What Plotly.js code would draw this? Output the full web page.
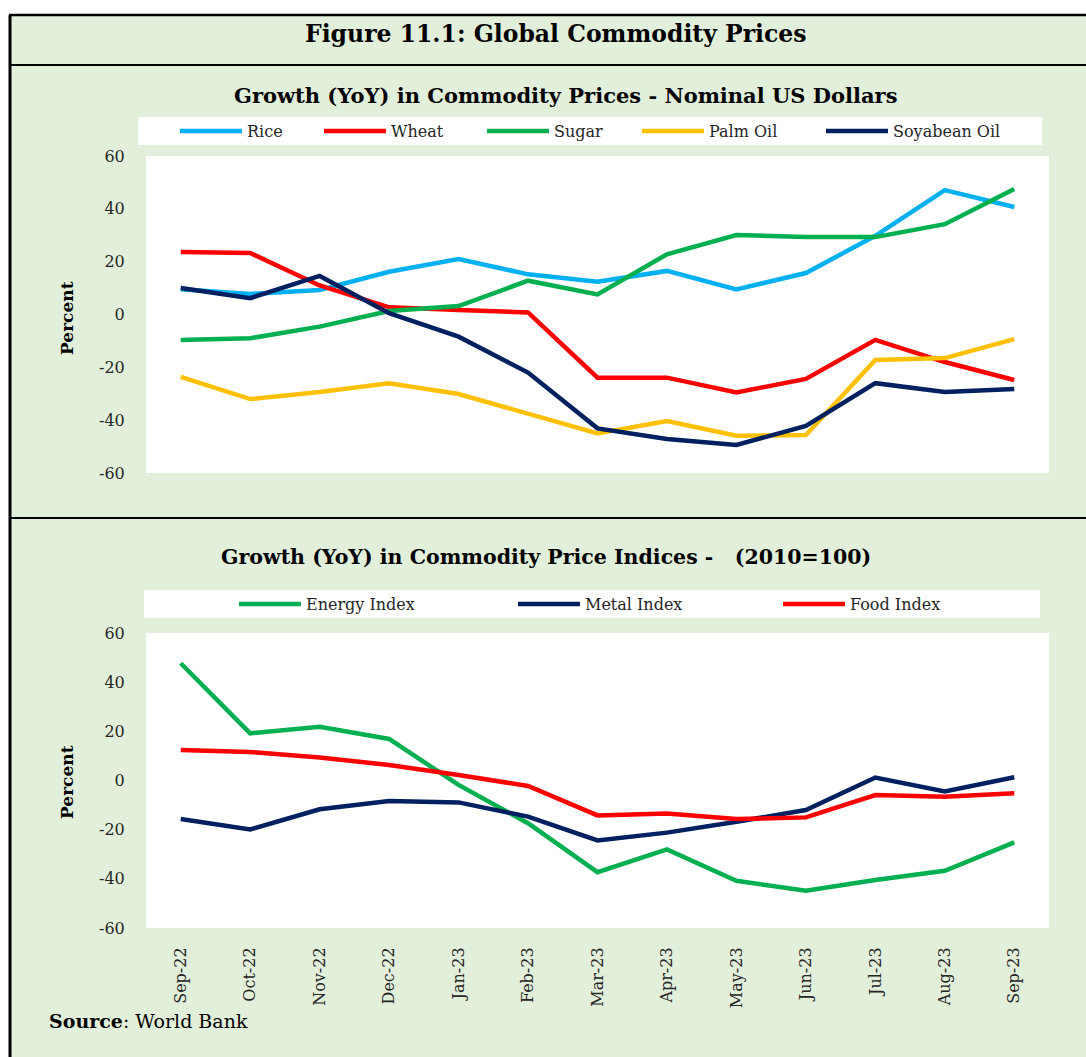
<!DOCTYPE html>
<html>
<head>
<meta charset="utf-8">
<script src="https://cdn.plot.ly/plotly-3.0.1.min.js"></script>
<style>html,body{margin:0;padding:0;background:#fff;}#chart{width:1086px;height:1057px;}</style>
</head>
<body>
<div id="chart"></div>
<script>
// ---- Data ----
const months = ['Sep-22','Oct-22','Nov-22','Dec-22','Jan-23','Feb-23','Mar-23','Apr-23','May-23','Jun-23','Jul-23','Aug-23','Sep-23'];

// Panel 1: Growth (YoY) in commodity prices, %
const rice  = [9.6, 7.8, 9.3, 16.2, 21.0, 15.2, 12.4, 16.5, 9.5, 15.7, 29.8, 47.1, 40.7];
const wheat = [23.7, 23.3, 11.0, 2.7, 1.7, 0.8, -23.9, -23.9, -29.5, -24.4, -9.6, -18.0, -24.8];
const sugar = [-9.7, -9.0, -4.6, 1.3, 3.2, 12.8, 7.6, 22.8, 30.1, 29.3, 29.3, 34.2, 47.5];
const palmOil = [-23.6, -32.0, -29.3, -26.0, -30.1, -37.4, -45.0, -40.3, -45.9, -45.6, -17.2, -16.5, -9.3];
const soyabeanOil = [10.0, 6.2, 14.6, 0.5, -8.4, -22.0, -43.1, -47.1, -49.4, -42.2, -26.0, -29.3, -28.2];

// Panel 2: Growth (YoY) in commodity price indices (2010=100), %
const energyIndex = [47.7, 19.2, 21.9, 16.9, -1.8, -17.4, -37.3, -28.0, -40.8, -44.8, -40.5, -36.7, -25.2];
const metalIndex  = [-15.7, -19.9, -11.7, -8.3, -8.9, -14.7, -24.4, -21.2, -16.8, -12.0, 1.2, -4.5, 1.3];
const foodIndex   = [12.4, 11.6, 9.4, 6.3, 2.2, -2.2, -14.2, -13.4, -15.7, -15.0, -5.9, -6.6, -5.2];

const yTicks = [-60, -40, -20, 0, 20, 40, 60];

// ---- Styling ----
const FONT = '"DejaVu Serif", "Liberation Serif", serif';
const W = 1086, H = 1057;
const px = v => v / W;
const py = v => 1 - v / H;
const LW = 4.5;

function line(name, y, color, xa, ya, leg) {
  return {type:'scatter', mode:'lines', name:name, x:months, y:y, xaxis:xa, yaxis:ya,
          legend:leg, line:{color:color, width:LW}, hoverinfo:'skip'};
}

const traces = [
  line('Rice', rice, '#00b0f0', 'x', 'y', 'legend'),
  line('Wheat', wheat, '#ff0000', 'x', 'y', 'legend2'),
  line('Sugar', sugar, '#00b050', 'x', 'y', 'legend3'),
  line('Palm Oil', palmOil, '#ffc000', 'x', 'y', 'legend4'),
  line('Soyabean Oil', soyabeanOil, '#002060', 'x', 'y', 'legend5'),
  line('Energy Index', energyIndex, '#00b050', 'x2', 'y2', 'legend6'),
  line('Metal Index', metalIndex, '#002060', 'x2', 'y2', 'legend7'),
  line('Food Index', foodIndex, '#ff0000', 'x2', 'y2', 'legend8')
];

const yaxisBase = {
  range:[-60, 60], tickvals: yTicks, ticktext: yTicks.map(String),
  showgrid:false, zeroline:false, showline:false,
  ticks:'outside', ticklen:17, tickcolor:'rgba(0,0,0,0)',
  tickfont:{family:FONT, size:16, color:'#262626'}, fixedrange:true
};
const xaxisBase = {
  type:'category', range:[-0.5, 12.5], showgrid:false, zeroline:false, showline:false,
  fixedrange:true
};

function leg(xLeft, yMid) {
  return {orientation:'h', x:px(xLeft - 6), xanchor:'left', y:py(yMid), yanchor:'middle',
          bgcolor:'rgba(0,0,0,0)', borderwidth:0, itemwidth:62,
          font:{family:FONT, size:16, color:'#262626'}, itemclick:false, itemdoubleclick:false};
}

const layout = {
  width:W, height:H,
  margin:{l:0, r:0, t:0, b:0},
  paper_bgcolor:'#e2efda', plot_bgcolor:'#ffffff',
  font:{family:FONT, color:'#000'},
  showlegend:true,
  xaxis: Object.assign({}, xaxisBase, {domain:[px(146), px(1049)], anchor:'y', showticklabels:false, ticks:''}),
  yaxis: Object.assign({}, yaxisBase, {domain:[py(473), py(156)], anchor:'x'}),
  xaxis2: Object.assign({}, xaxisBase, {domain:[px(146), px(1049)], anchor:'y2',
          tickangle:-90, ticks:'outside', ticklen:12, tickcolor:'rgba(0,0,0,0)',
          tickfont:{family:FONT, size:16, color:'#262626'}}),
  yaxis2: Object.assign({}, yaxisBase, {domain:[py(928), py(633)], anchor:'x2'}),
  legend:  leg(181, 131),
  legend2: leg(325, 131),
  legend3: leg(488, 131),
  legend4: leg(643, 131),
  legend5: leg(827, 131),
  legend6: leg(240, 604),
  legend7: leg(519, 604),
  legend8: leg(784, 604),
  shapes:[
    // white outer margins
    {type:'rect', xref:'paper', yref:'paper', x0:0, x1:1, y0:py(15), y1:1, fillcolor:'#ffffff', line:{width:0}, layer:'below'},
    {type:'rect', xref:'paper', yref:'paper', x0:0, x1:px(9), y0:0, y1:1, fillcolor:'#ffffff', line:{width:0}, layer:'below'},
    // legend boxes
    {type:'rect', xref:'paper', yref:'paper', x0:px(138), x1:px(1042), y0:py(145), y1:py(117), fillcolor:'#ffffff', line:{width:0}, layer:'below'},
    {type:'rect', xref:'paper', yref:'paper', x0:px(144), x1:px(1040), y0:py(618), y1:py(590), fillcolor:'#ffffff', line:{width:0}, layer:'below'},
    // frame lines
    {type:'line', xref:'paper', yref:'paper', x0:px(9), x1:1, y0:py(15), y1:py(15), line:{color:'#000', width:2.5}},
    {type:'line', xref:'paper', yref:'paper', x0:px(9), x1:1, y0:py(65), y1:py(65), line:{color:'#000', width:2}},
    {type:'line', xref:'paper', yref:'paper', x0:px(9), x1:1, y0:py(518), y1:py(518), line:{color:'#000', width:2}},
    {type:'line', xref:'paper', yref:'paper', x0:px(10), x1:px(10), y0:py(15), y1:0, line:{color:'#000', width:3}}
  ],
  annotations:[
    {text:'<b>Figure 11.1: Global Commodity Prices</b>', xref:'paper', yref:'paper', x:px(555), y:py(34),
     xanchor:'center', yanchor:'middle', showarrow:false, font:{family:FONT, size:23.5, color:'#000'}},
    {text:'<b>Growth (YoY) in Commodity Prices - Nominal US Dollars</b>', xref:'paper', yref:'paper', x:px(565), y:py(95),
     xanchor:'center', yanchor:'middle', showarrow:false, font:{family:FONT, size:21, color:'#000'}},
    {text:'<b>Growth (YoY) in Commodity Price Indices -   (2010=100)</b>', xref:'paper', yref:'paper', x:px(546), y:py(557),
     xanchor:'center', yanchor:'middle', showarrow:false, font:{family:FONT, size:20.5, color:'#000'}},
    {text:'<b>Percent</b>', xref:'paper', yref:'paper', x:px(67), y:py(318), textangle:-90,
     xanchor:'center', yanchor:'middle', showarrow:false, font:{family:FONT, size:17, color:'#000'}},
    {text:'<b>Percent</b>', xref:'paper', yref:'paper', x:px(67), y:py(782), textangle:-90,
     xanchor:'center', yanchor:'middle', showarrow:false, font:{family:FONT, size:17, color:'#000'}},
    {text:'<b>Source</b>: World Bank', xref:'paper', yref:'paper', x:px(47), y:py(1021),
     xanchor:'left', yanchor:'middle', showarrow:false, font:{family:FONT, size:19, color:'#000'}}
  ]
};

Plotly.newPlot('chart', traces, layout, {displayModeBar:false, staticPlot:true});
</script>
</body>
</html>
